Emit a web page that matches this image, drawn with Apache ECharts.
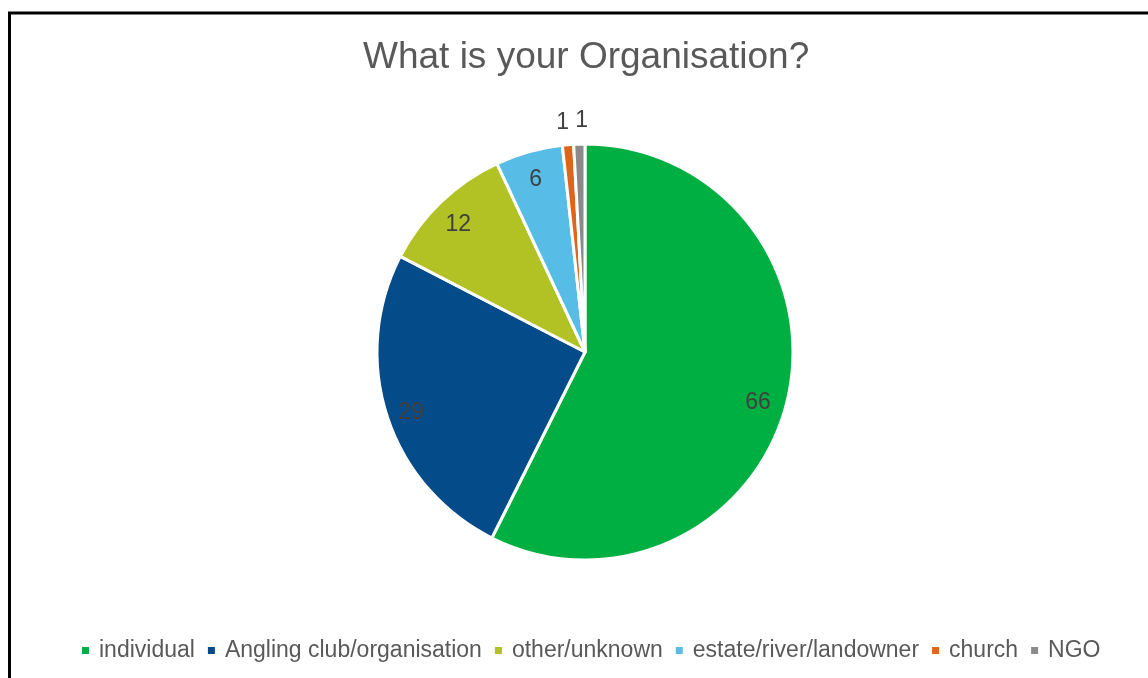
<!DOCTYPE html>
<html>
<head>
<meta charset="utf-8">
<script src="https://cdn.jsdelivr.net/npm/echarts@6/dist/echarts.min.js"></script>
<style>
  html, body { margin: 0; padding: 0; background: #fff; }
  #chart { width: 1148px; height: 678px; }
</style>
</head>
<body>
<div id="chart"></div>
<script>
const categories = ['individual', 'Angling club/organisation', 'other/unknown', 'estate/river/landowner', 'church', 'NGO'];
const values = [66, 29, 12, 6, 1, 1];
const colors = ['#00AF41', '#034B89', '#B2C225', '#57BCE6', '#E0651A', '#8A8A8A'];
// small slices get their label outside the pie
const outsideLabel = [false, false, false, false, true, true];
// nudge labels a little, Excel-style best fit
const labelNudge = [[-5, 9], [0, 4], [0, 5], [0, 4], [-3, 5], [3, 4]];

const font = 'Liberation Sans, Arial, sans-serif';
const chart = echarts.init(document.getElementById('chart'));

const pieData = categories.map((name, i) => ({
  name: name,
  value: values[i],
  itemStyle: { color: colors[i] }
}));

function labelRing(showOutside) {
  return categories.map((name, i) => ({
    name: name,
    value: values[i],
    label: { show: outsideLabel[i] === showOutside, offset: labelNudge[i] }
  }));
}

const labelStyle = {
  position: 'inside',
  color: '#404040',
  fontSize: 23,
  fontFamily: font,
  formatter: '{c}'
};

const option = {
  animation: false,
  title: {
    text: 'What is your Organisation?',
    left: 358,
    top: 34,
    textStyle: { color: '#595959', fontSize: 37, fontWeight: 'normal', fontFamily: font }
  },
  legend: {
    data: categories,
    left: 77,
    top: 634,
    icon: 'rect',
    itemWidth: 7,
    itemHeight: 7,
    itemGap: 13,
    selectedMode: false,
    itemStyle: { borderWidth: 0 },
    textStyle: { color: '#595959', fontSize: 23, fontFamily: font, padding: [0, 0, 0, 5] }
  },
  graphic: [{
    type: 'rect',
    shape: { x: 9.5, y: 13, width: 1300, height: 900 },
    style: { fill: 'none', stroke: '#000', lineWidth: 3 },
    silent: true
  }],
  series: [
    {
      name: 'main',
      type: 'pie',
      center: [585, 352],
      radius: [0, 208],
      data: pieData,
      label: { show: false },
      labelLine: { show: false },
      itemStyle: { borderColor: '#fff', borderWidth: 3 },
      emphasis: { disabled: true }
    },
    {
      name: 'labels',
      type: 'pie',
      center: [585, 352],
      radius: [152, 208],
      silent: true,
      data: labelRing(false),
      itemStyle: { color: 'transparent' },
      label: labelStyle,
      labelLine: { show: false },
      emphasis: { disabled: true }
    },
    {
      name: 'outerLabels',
      type: 'pie',
      center: [585, 352],
      radius: [208, 256],
      silent: true,
      data: labelRing(true),
      itemStyle: { color: 'transparent' },
      label: labelStyle,
      labelLine: { show: false },
      emphasis: { disabled: true }
    }
  ]
};

chart.setOption(option);
</script>
</body>
</html>
